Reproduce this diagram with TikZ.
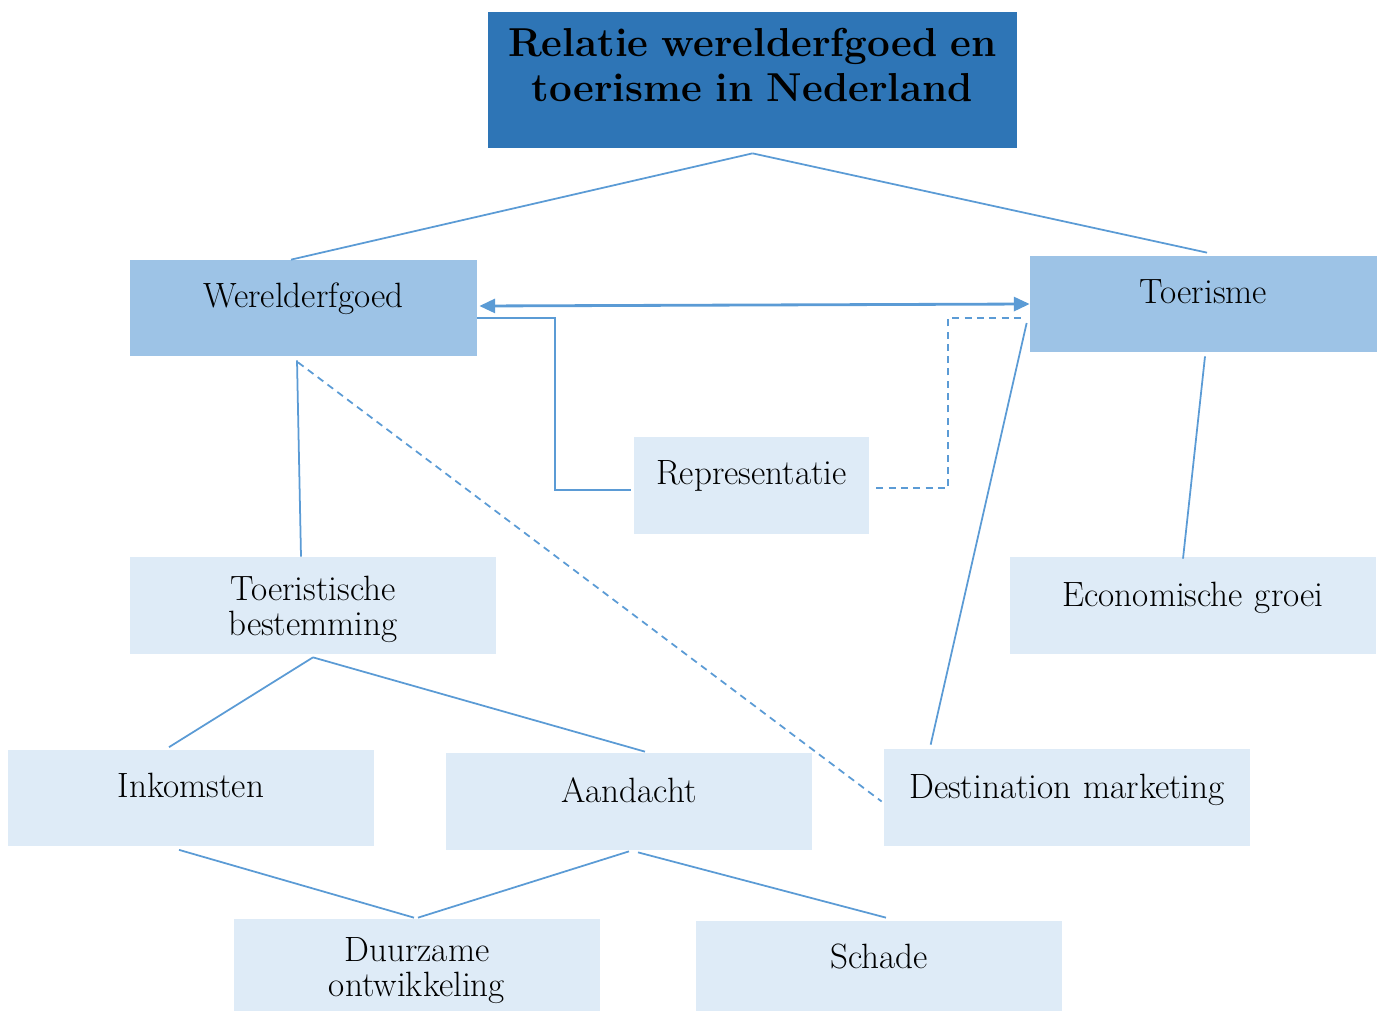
\documentclass[tikz,border=0pt]{standalone}
\usepackage{tikz}
\usepackage{xcolor}
\usetikzlibrary{arrows.meta}
\definecolor{titleblue}{RGB}{46,117,182}
\definecolor{midblue}{RGB}{157,195,230}
\definecolor{lightblue}{RGB}{222,235,247}
\definecolor{lineblue}{RGB}{91,155,213}

\begin{document}
\begin{tikzpicture}[
  box/.style={rectangle,inner sep=0pt,align=center,text height=0.95cm,text depth=0.97cm,
    font=\fontsize{20}{20.4}\selectfont},
  mainbox/.style={box,fill=midblue,text width=6.94cm},
  subbox/.style={box,fill=lightblue,text width=7.32cm},
  link/.style={draw=lineblue,line width=1pt}
]
\useasboundingbox (0,0) rectangle (27.58,-20.24);
\node[box,fill=titleblue,text width=10.58cm,text height=0.9cm,text depth=1.82cm,
  font=\fontsize{23}{25.5}\selectfont\bfseries] (title) at (15.05,-1.6) {Relatie werelderfgoed en\\toerisme in Nederland};
\node[mainbox,text height=0.94cm,text depth=0.98cm] (wer) at (6.07,-6.16) {Werelderfgoed};
\node[mainbox,text height=0.94cm,text depth=0.98cm] (toer) at (24.07,-6.08) {Toerisme};
\node[box,fill=lightblue,text width=4.7cm,text height=0.94cm,text depth=1.0cm] (repr) at (15.03,-9.71) {Representatie};
\node[subbox,text height=0.86cm,text depth=1.08cm] (best) at (6.26,-12.11) {Toeristische\\bestemming};
\node[subbox,text height=0.98cm,text depth=0.96cm] (econ) at (23.86,-12.11) {Economische groei};
\node[subbox] (ink) at (3.82,-15.95) {Inkomsten};
\node[subbox,text height=0.98cm,text depth=0.96cm] (aand) at (12.58,-16.03) {Aandacht};
\node[subbox,text height=0.98cm,text depth=0.96cm] (dest) at (21.34,-15.95) {Destination marketing};
\node[subbox,text height=0.84cm,text depth=1.0cm] (duur) at (8.34,-19.3) {Duurzame\\ontwikkeling};
\node[subbox,text height=0.94cm,text depth=0.86cm] (schade) at (17.58,-19.32) {Schade};
% top level
\draw[link] ([yshift=-0.1cm]title.south) -- ([xshift=-0.25cm]wer.north);
\draw[link] ([yshift=-0.1cm]title.south) -- ([xshift=0.07cm,yshift=0.06cm]toer.north);
\draw[draw=lineblue,line width=1.6pt,{Triangle[length=9pt,width=8pt]}-{Triangle[length=9pt,width=8pt]}]
  ([xshift=0.04cm,yshift=0.04cm]wer.east) -- (toer.west);
% representatie
\draw[link] ([yshift=-0.2cm]wer.east) -- ++(1.56,0) |- ([xshift=-0.06cm,yshift=-0.09cm]repr.west);
\draw[link,dash pattern=on 4pt off 3pt] ([xshift=0.14cm,yshift=-0.05cm]repr.east) -- ++(1.44,0)
  |- ([xshift=-0.1cm,yshift=-0.28cm]toer.west);
% werelderfgoed
\draw[link] ([xshift=-0.13cm,yshift=-0.08cm]wer.south) -- ([xshift=-0.24cm]best.north);
\draw[link,dash pattern=on 4pt off 3pt] ([xshift=-0.11cm,yshift=-0.12cm]wer.south) -- ([xshift=-0.04cm,yshift=-0.08cm]dest.west);
% toerisme
\draw[link] ([xshift=-0.06cm,yshift=-0.38cm]toer.west) -- ([xshift=0.94cm,yshift=0.08cm]dest.north west);
\draw[link] ([xshift=0.03cm,yshift=-0.08cm]toer.south) -- ([xshift=-0.2cm,yshift=-0.04cm]econ.north);
% bestemming
\draw[link] ([yshift=-0.06cm]best.south) -- ([xshift=-0.44cm,yshift=0.04cm]ink.north);
\draw[link] ([yshift=-0.06cm]best.south) -- ([xshift=0.32cm,yshift=0.02cm]aand.north);
% onderste niveau
\draw[link] ([xshift=-0.24cm,yshift=-0.08cm]ink.south) -- ([xshift=-0.06cm,yshift=0.02cm]duur.north);
\draw[link] ([yshift=-0.02cm]aand.south) -- ([xshift=0.02cm,yshift=0.02cm]duur.north);
\draw[link] ([xshift=0.18cm,yshift=-0.04cm]aand.south) -- ([xshift=0.14cm,yshift=0.06cm]schade.north);
\end{tikzpicture}
\end{document}
